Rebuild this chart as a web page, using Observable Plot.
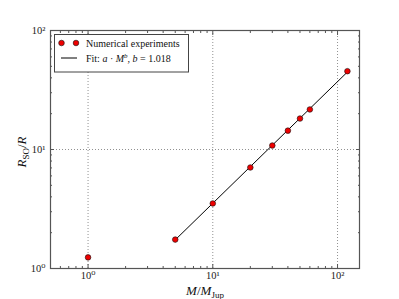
<!DOCTYPE html>
<html>
<head>
<meta charset="utf-8">
<script src="https://cdn.jsdelivr.net/npm/d3@7"></script>
<script src="https://cdn.jsdelivr.net/npm/@observablehq/plot@0.6"></script>
<style>
  html, body { margin: 0; padding: 0; background: white; }
</style>
</head>
<body>
<div id="chart"></div>
<script>
// Data
const massRatio = [1, 5, 10, 20, 30, 40, 50, 60, 120];
const radiusRatio = [1.24, 1.75, 3.52, 7.06, 10.8, 14.4, 18.2, 21.7, 45.5];
const fitMass = [5, 120];
const fitRadius = [1.74, 44.8];
const majorXTicks = [1, 10, 100];
const majorYTicks = [1, 10, 100];
const minorXTicks = [0.5, 0.6, 0.7, 0.8, 0.9, 2, 3, 4, 5, 6, 7, 8, 9, 20, 30, 40, 50, 60, 70, 80, 90];
const minorYTicks = [2, 3, 4, 5, 6, 7, 8, 9, 20, 30, 40, 50, 60, 70, 80, 90];
const gridXTicks = [1, 10, 100];
const gridYTicks = [10];
const legendLabels = ["Numerical experiments", "Fit: "];

const points = massRatio.map((m, i) => ({m, r: radiusRatio[i]}));
const fit = fitMass.map((m, i) => ({m, r: fitRadius[i]}));
const supDigits = {"0": "\u2070", "1": "\u00b9", "2": "\u00b2"};
const powFmt = d => "10" + String(Math.round(Math.log10(d))).split("").map(c => supDigits[c]).join("");
const blank = () => "";

const font = "'Liberation Serif', 'DejaVu Serif', serif";
const axisColor = "#555";

const svg = Plot.plot({
  width: 399,
  height: 299,
  marginLeft: 50,
  marginRight: 40,
  marginTop: 30,
  marginBottom: 31,
  style: {fontFamily: font, fontSize: "10px", background: "white", color: "#222", overflow: "visible"},
  x: {type: "log", domain: [0.5, 150], label: null},
  y: {type: "log", domain: [1, 100], label: null},
  marks: [
    Plot.gridX(gridXTicks, {stroke: "#000", strokeOpacity: 0.55, strokeDasharray: "1,2", strokeWidth: 0.8}),
    Plot.gridY(gridYTicks, {stroke: "#000", strokeOpacity: 0.55, strokeDasharray: "1,2", strokeWidth: 0.8}),
    // minor ticks (inward, all sides)
    Plot.axisX(minorXTicks, {anchor: "bottom", tickSize: -2, tickFormat: blank, stroke: axisColor, label: null}),
    Plot.axisX(minorXTicks, {anchor: "top", tickSize: -2, tickFormat: blank, stroke: axisColor, label: null}),
    Plot.axisY(minorYTicks, {anchor: "left", tickSize: -2, tickFormat: blank, stroke: axisColor, label: null}),
    Plot.axisY(minorYTicks, {anchor: "right", tickSize: -2, tickFormat: blank, stroke: axisColor, label: null}),
    // major ticks
    Plot.axisX(majorXTicks, {anchor: "bottom", tickSize: -4, tickFormat: blank, stroke: axisColor, label: null}),
    Plot.axisX(majorXTicks, {anchor: "top", tickSize: -4, tickFormat: blank, stroke: axisColor, label: null}),
    Plot.axisY(majorYTicks, {anchor: "left", tickSize: -4, tickFormat: blank, stroke: axisColor, label: null}),
    Plot.axisY(majorYTicks, {anchor: "right", tickSize: -4, tickFormat: blank, stroke: axisColor, label: null}),
    // tick labels
    Plot.axisX(majorXTicks, {anchor: "bottom", tickSize: 0, tickPadding: 3, tickFormat: powFmt, label: null, fontSize: 10.5}),
    Plot.axisY(majorYTicks, {anchor: "left", tickSize: 0, tickPadding: 5, tickFormat: powFmt, label: null, fontSize: 10.5}),
    Plot.frame({stroke: axisColor, strokeWidth: 1.2}),
    Plot.line(fit, {x: "m", y: "r", stroke: "black", strokeWidth: 1}),
    Plot.dot(points, {x: "m", y: "r", r: 2.8, fill: "#ee0000", stroke: "#111", strokeWidth: 0.6})
  ]
});

document.getElementById("chart").appendChild(svg);

const s = d3.select(svg);
// Axis labels
const xl = s.append("text")
  .attr("x", 205).attr("y", 295)
  .attr("text-anchor", "middle")
  .attr("font-family", font).attr("font-size", 13).attr("fill", "#111");
xl.append("tspan").attr("font-style", "italic").text("M");
xl.append("tspan").text("/");
xl.append("tspan").attr("font-style", "italic").text("M");
xl.append("tspan").attr("font-size", 9).attr("dy", 2.5).text("Jup");

const yl = s.append("text")
  .attr("transform", "translate(26,152) rotate(-90)")
  .attr("text-anchor", "middle")
  .attr("font-family", font).attr("font-size", 13).attr("fill", "#111");
yl.append("tspan").attr("font-style", "italic").text("R");
yl.append("tspan").attr("font-size", 9).attr("dy", 2.5).text("SO");
yl.append("tspan").attr("dy", -2.5).text("/");
yl.append("tspan").attr("font-style", "italic").text("R");

// Legend
const lg = s.append("g").attr("font-family", font).attr("font-size", 10).attr("fill", "#111")
  .attr("text-anchor", "start");
lg.append("rect").attr("x", 54.5).attr("y", 34.5).attr("width", 134).attr("height", 37.5)
  .attr("fill", "white").attr("stroke", "#444").attr("stroke-width", 1);
[61.5, 76].forEach(cx => lg.append("circle").attr("cx", cx).attr("cy", 43).attr("r", 2.8)
  .attr("fill", "#ee0000").attr("stroke", "#111").attr("stroke-width", 0.6));
lg.append("text").attr("x", 86).attr("y", 46.5).attr("text-anchor", "start").text(legendLabels[0]);
lg.append("line").attr("x1", 61).attr("x2", 77).attr("y1", 58).attr("y2", 58)
  .attr("stroke", "black").attr("stroke-width", 1);
const ft = lg.append("text").attr("x", 86).attr("y", 61.5).attr("text-anchor", "start");
ft.append("tspan").text(legendLabels[1]);
ft.append("tspan").attr("font-style", "italic").text("a");
ft.append("tspan").text(" \u00b7 ");
ft.append("tspan").attr("font-style", "italic").text("M");
ft.append("tspan").attr("font-style", "italic").attr("font-size", 7).attr("dy", -4).text("b");
ft.append("tspan").attr("dy", 4).text(", ");
ft.append("tspan").attr("font-style", "italic").text("b");
ft.append("tspan").text(" = 1.018");
</script>
</body>
</html>
